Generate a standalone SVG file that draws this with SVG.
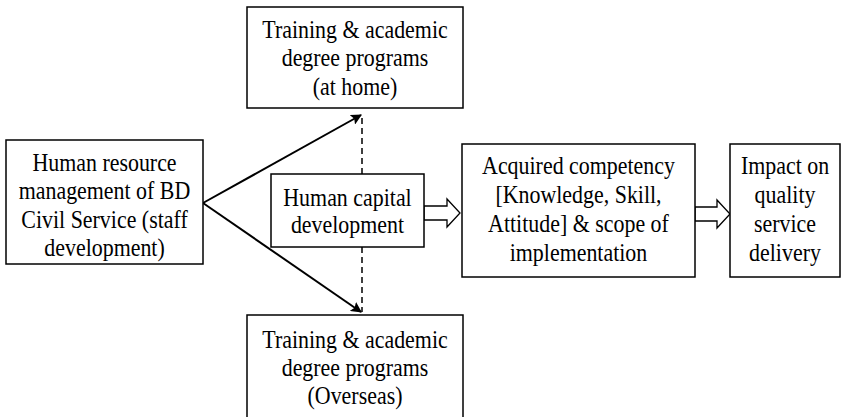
<svg xmlns="http://www.w3.org/2000/svg" width="842" height="417" viewBox="0 0 842 417">
<defs>
<style>
.box{fill:#fff;stroke:#000;stroke-width:1.5}
.t{font-family:"Liberation Serif","Times New Roman",serif;font-size:25.5px;fill:#000;text-anchor:middle}
.ln{stroke:#000;stroke-width:2;fill:none}
.dash{stroke:#000;stroke-width:1.5;stroke-dasharray:6,4;fill:none}
.block{fill:#fff;stroke:#000;stroke-width:1.3}
</style>
<marker id="ah2" viewBox="0 0 10 10" refX="9" refY="5" markerWidth="11" markerHeight="11" orient="auto" markerUnits="userSpaceOnUse">
<path d="M0,0 L10,5 L0,10 L2,5 Z" fill="#000"/>
</marker>
</defs>
<g id="connectors">
<line class="dash" x1="362" y1="118" x2="362" y2="174"/>
<line class="dash" x1="362" y1="247" x2="362" y2="312"/>
<line class="ln" x1="203" y1="203" x2="361" y2="115" marker-end="url(#ah2)"/>
<line class="ln" x1="203" y1="203" x2="361" y2="312" marker-end="url(#ah2)"/>
<path class="block" d="M424,206 L447,206 L447,199 L460,213 L447,227 L447,220 L424,220 Z"/>
<path class="block" d="M695,207 L717,207 L717,200 L730,214 L717,228 L717,221 L695,221 Z"/>
</g>
<g id="hrm">
<rect class="box" x="6" y="140" width="197" height="124"/>
<g transform="matrix(0.86,0,0,1,104.5,0)">
<text class="t" x="0" y="171">Human resource</text>
<text class="t" x="0" y="199.5">management of BD</text>
<text class="t" x="0" y="228">Civil Service (staff</text>
<text class="t" x="0" y="256.5">development)</text>
</g>
</g>
<g id="home">
<rect class="box" x="247" y="7" width="216" height="101"/>
<g transform="matrix(0.86,0,0,1,355,0)">
<text class="t" x="0" y="38">Training &amp; academic</text>
<text class="t" x="0" y="66.5">degree programs</text>
<text class="t" x="0" y="95">(at home)</text>
</g>
</g>
<g id="hcd">
<rect class="box" x="271" y="174" width="153" height="73"/>
<g transform="matrix(0.86,0,0,1,347.5,0)">
<text class="t" x="0" y="206">Human capital</text>
<text class="t" x="0" y="233.5">development</text>
</g>
</g>
<g id="overseas">
<rect class="box" x="247" y="315" width="216" height="110"/>
<g transform="matrix(0.86,0,0,1,355,0)">
<text class="t" x="0" y="348">Training &amp; academic</text>
<text class="t" x="0" y="376">degree programs</text>
<text class="t" x="0" y="404">(Overseas)</text>
</g>
</g>
<g id="competency">
<rect class="box" x="462" y="144" width="233" height="133"/>
<g transform="matrix(0.86,0,0,1,578.5,0)">
<text class="t" x="0" y="174">Acquired competency</text>
<text class="t" x="0" y="203">[Knowledge, Skill,</text>
<text class="t" x="0" y="232">Attitude] &amp; scope of</text>
<text class="t" x="0" y="261">implementation</text>
</g>
</g>
<g id="impact">
<rect class="box" x="730" y="144" width="110" height="133"/>
<g transform="matrix(0.86,0,0,1,785,0)">
<text class="t" x="0" y="174">Impact on</text>
<text class="t" x="0" y="203">quality</text>
<text class="t" x="0" y="232">service</text>
<text class="t" x="0" y="261">delivery</text>
</g>
</g>
</svg>
